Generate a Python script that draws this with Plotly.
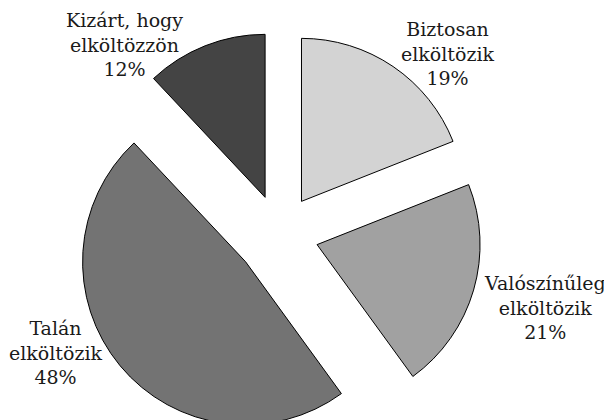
import plotly.graph_objects as go

labels = ["Biztosan<br>elköltözik", "Valószínűleg<br>elköltözik", "Talán<br>elköltözik", "Kizárt, hogy<br>elköltözzön"]
values = [19, 21, 48, 12]
colors = ["#d3d3d3", "#a1a1a1", "#737373", "#444444"]
pulls = [0.24, 0.24, 0.27, 0.24]
label_pos = [(448, 54), (545, 307), (56, 352), (125, 44)]

OFF = 8  # page body margin
W, H = 612, 442
cx, cy, half = 279.5 - OFF, 233.7 - OFF, 207

fig = go.Figure(go.Pie(
    labels=labels,
    values=values,
    sort=False,
    direction="clockwise",
    rotation=0,
    pull=pulls,
    marker=dict(colors=colors, line=dict(color="black", width=1)),
    textinfo="none",
    hoverinfo="skip",
    showlegend=False,
    domain=dict(x=[(cx - half) / W, (cx + half) / W],
                y=[max(0, (H - cy - half) / H), (H - cy + half) / H]),
))
total = sum(values)
for lab, v, (px, py) in zip(labels, values, label_pos):
    fig.add_annotation(
        x=(px - OFF) / W, y=1 - (py - OFF) / H, xref="paper", yref="paper",
        text=f"{lab}<br>{round(100 * v / total)}%",
        showarrow=False, xanchor="center", yanchor="middle",
        font=dict(family="DejaVu Serif, DejaVu Sans", size=19, color="#1a1a1a"),
    )
fig.update_layout(
    width=W, height=H,
    margin=dict(l=0, r=0, t=0, b=0),
    paper_bgcolor="white",
)
fig.write_html("out.html")
